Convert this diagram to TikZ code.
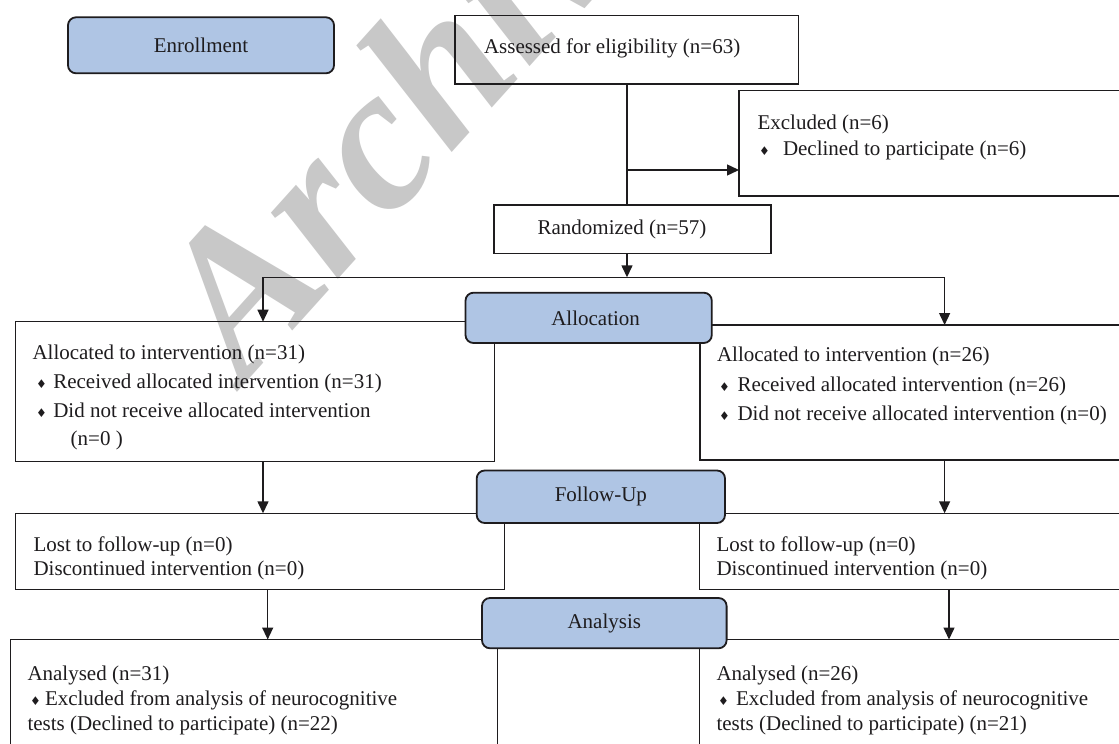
\documentclass[tikz,border=0pt]{standalone}
\usepackage{fontspec}
\setmainfont{Liberation Serif}
\newfontfamily\dejavu{DejaVu Sans}
\usetikzlibrary{arrows.meta}
\definecolor{bluebox}{RGB}{175,197,228}
\definecolor{wmark}{RGB}{200,200,200}
\definecolor{ink}{RGB}{30,28,30}
\newcommand\bul[1]{\makebox[#1][l]{{\dejavu\fontsize{12}{12}\selectfont ♦}}}
\begin{document}
\begin{tikzpicture}[x=1pt,y=-1pt,
  every node/.style={inner sep=0pt, outer sep=0pt, text=ink, font=\fontsize{21}{25}\selectfont},
  box/.style={draw=ink, line width=1.4pt, anchor=north west, rectangle},
  phase/.style={draw=ink, line width=1.8pt, fill=bluebox, rounded corners=8pt, anchor=north west},
  txt/.style={anchor=base west},
  conn/.style={draw=ink, line width=1.4pt},
  arr/.style={conn, -{Triangle[length=12pt,width=11pt]}},
]
\useasboundingbox (0,0) rectangle (1119,744);
\fill[white] (0,0) rectangle (1119,744);
\clip (0,0) rectangle (1119,744);

% watermark
\node[rotate=48, anchor=base west, text=wmark, font=\bfseries\itshape\fontsize{205}{205}\selectfont] (wm) at (244,384) {Archive};

% plain boxes
\node[box, minimum width=343.6pt, minimum height=68.3pt] (assess) at (455,15.7) {};
\node[box, minimum width=391pt, minimum height=105.3pt] (excl) at (739,90.7) {};
\node[box, minimum width=277pt, minimum height=48.3pt] (rand) at (494,205) {};
\node[box, minimum width=478.9pt, minimum height=140pt] (allocL) at (15.7,321.7) {};
\node[box, minimum width=430pt, minimum height=135pt] (allocR) at (700,325) {};
\node[box, minimum width=488.9pt, minimum height=76pt] (fuL) at (15.7,513.3) {};
\node[box, minimum width=430.5pt, minimum height=76pt] (fuR) at (699.5,513.3) {};
\node[box, minimum width=486.8pt, minimum height=120.5pt] (anL) at (10.7,639.5) {};
\node[box, minimum width=430.5pt, minimum height=120.5pt] (anR) at (699.5,639.5) {};

% phase boxes
\node[phase, minimum width=266pt, minimum height=56pt] (enroll) at (68,17.3) {Enrollment};
\node[phase, minimum width=246.3pt, minimum height=50.3pt] (alloc) at (465.5,292.7) {\hspace{14pt}Allocation};
\node[phase, minimum width=248.3pt, minimum height=52.5pt] (follow) at (476.7,470.5) {Follow-Up};
\node[phase, minimum width=244.6pt, minimum height=50.3pt] (analysis) at (482,598) {Analysis};

% texts
\node[txt] (tAssess) at (484,53.3) {Assessed for eligibility (n=63)};
\node[anchor=base] (tRand) at (622,234) {Randomized (n=57)};
\node[txt] (tEx1) at (757.5,129.3) {Excluded (n=6)};
\node[txt] (tEx2) at (759,155) {\bul{24pt}Declined to participate (n=6)};

\node[txt] (tAL1) at (32.5,359) {Allocated to intervention (n=31)};
\node[txt] (tAL2) at (36,388) {\bul{17.3pt}Received allocated intervention (n=31)};
\node[txt] (tAL3) at (36,417) {\bul{17.3pt}Did not receive allocated intervention};
\node[txt] (tAL4) at (70.7,445) {(n=0 )};

\node[txt] (tAR1) at (717,361) {Allocated to intervention (n=26)};
\node[txt] (tAR2) at (719,391) {\bul{18.5pt}Received allocated intervention (n=26)};
\node[txt] (tAR3) at (719,420) {\bul{18.5pt}Did not receive allocated intervention (n=0)};

\node[txt] (tFL1) at (33.5,551) {Lost to follow-up (n=0)};
\node[txt] (tFL2) at (33.5,575) {Discontinued intervention (n=0)};
\node[txt] (tFR1) at (716.5,551) {Lost to follow-up (n=0)};
\node[txt] (tFR2) at (716.5,575) {Discontinued intervention (n=0)};

\node[txt] (tNL1) at (27.5,680) {Analysed (n=31)};
\node[txt] (tNL2) at (30,705) {\bul{15pt}Excluded from analysis of neurocognitive};
\node[txt] (tNL3) at (27.5,730) {tests (Declined to participate) (n=22)};
\node[txt] (tNR1) at (716.5,680) {Analysed (n=26)};
\node[txt] (tNR2) at (718,705) {\bul{18pt}Excluded from analysis of neurocognitive};
\node[txt] (tNR3) at (716.5,730) {tests (Declined to participate) (n=21)};

% connectors
\coordinate (jx) at (627,170);
\coordinate (split) at (627,277.3);
\coordinate (sL) at (263,277.3);
\coordinate (sR) at (944.6,277.3);
\coordinate (aL) at (267.7,600);
\coordinate (aR) at (949,600);
\draw[conn] (assess.south -| split) -- (rand.north -| split);
\draw[arr] (jx) -- (jx -| excl.west);
\draw[arr] (rand.south -| split) -- (split);
\draw[arr] (split) -| (allocL.north -| sL);
\draw[arr] (split) -| (allocR.north -| sR);
\draw[arr] (allocL.south -| sL) -- (fuL.north -| sL);
\draw[arr] (allocR.south -| sR) -- (fuR.north -| sR);
\draw[arr] (fuL.south -| aL) -- (anL.north -| aL);
\draw[arr] (fuR.south -| aR) -- (anR.north -| aR);
\end{tikzpicture}
\end{document}
